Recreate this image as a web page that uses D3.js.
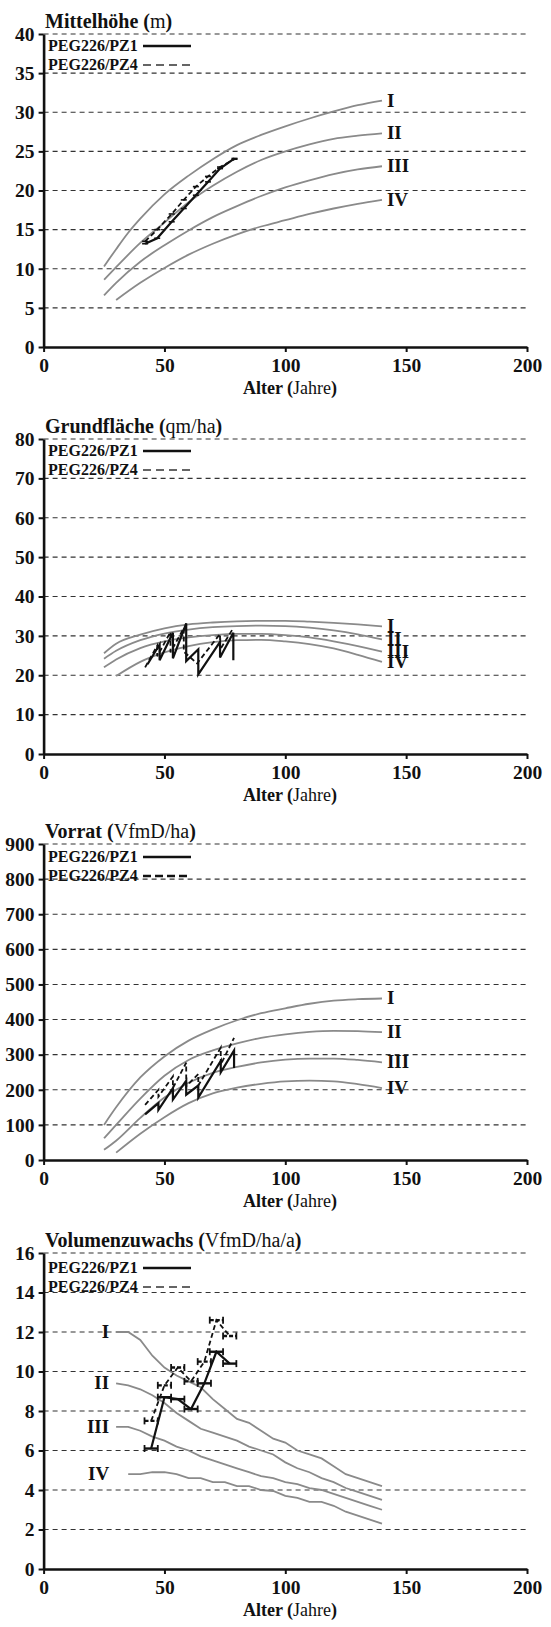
<!DOCTYPE html>
<html>
<head>
<meta charset="utf-8">
<script src="https://cdn.jsdelivr.net/npm/d3@7"></script>
<style>
  body { margin: 0; background: #fff; }
</style>
</head>
<body>
<svg id="chart" width="551" height="1627"></svg>
<script>
// ---------- Ertragstafel-Kurven (Bonitäten I–IV), [Alter, Wert] ----------
const hoeheI   = [[25,10.3],[30,12.5],[35,14.6],[40,16.4],[50,19.5],[60,21.9],[70,24.0],[80,25.8],[90,27.1],[100,28.2],[110,29.2],[120,30.1],[130,30.9],[140,31.5]];
const hoeheII  = [[25,8.6],[30,10.2],[40,13.3],[50,15.9],[60,18.5],[70,20.6],[80,22.4],[90,23.9],[100,25.0],[110,25.9],[120,26.6],[130,27.0],[140,27.3]];
const hoeheIII = [[25,6.6],[30,8.2],[40,10.9],[50,13.0],[60,14.9],[70,16.6],[80,18.0],[90,19.3],[100,20.4],[110,21.3],[120,22.1],[130,22.7],[140,23.1]];
const hoeheIV  = [[30,6.0],[40,8.2],[50,10.1],[60,11.8],[70,13.2],[80,14.4],[90,15.4],[100,16.2],[110,17.0],[120,17.7],[130,18.3],[140,18.8]];

const gfI   = [[25,25.6],[30,28.0],[40,30.3],[50,31.9],[60,32.9],[70,33.4],[80,33.7],[90,33.8],[100,33.8],[110,33.6],[120,33.3],[130,32.9],[140,32.4]];
const gfII  = [[25,24.2],[30,26.2],[40,28.9],[50,30.6],[60,31.6],[70,32.2],[80,32.5],[90,32.6],[100,32.5],[110,32.1],[120,31.4],[130,30.4],[140,29.1]];
const gfIII = [[25,22.0],[30,24.0],[40,26.9],[50,28.6],[60,29.6],[70,30.2],[80,30.5],[90,30.5],[100,30.2],[110,29.6],[120,28.6],[130,27.4],[140,26.0]];
const gfIV  = [[30,19.8],[40,23.4],[50,25.8],[60,27.4],[70,28.4],[80,28.9],[90,29.0],[100,28.6],[110,27.9],[120,26.8],[130,25.2],[140,23.4]];

const vorratI   = [[25,100],[30,150],[40,235],[50,295],[60,340],[70,372],[80,398],[90,418],[100,432],[110,445],[120,454],[130,458],[140,460]];
const vorratII  = [[25,62],[30,100],[40,175],[50,240],[60,285],[70,312],[80,332],[90,348],[100,358],[110,365],[120,368],[130,367],[140,364]];
const vorratIII = [[25,29],[30,55],[40,120],[50,178],[60,220],[70,248],[80,265],[90,278],[100,286],[110,289],[120,289],[130,285],[140,278]];
const vorratIV  = [[30,21],[40,75],[50,122],[60,162],[70,190],[80,206],[90,217],[100,224],[110,226],[120,224],[130,216],[140,205]];

const zuwI   = [[30,12.0],[35,12.0],[40,11.6],[45,10.8],[50,10.2],[55,9.8],[60,9.5],[65,9.2],[70,8.6],[75,8.1],[80,7.6],[85,7.4],[90,7.0],[95,6.6],[100,6.4],[105,6.0],[110,5.8],[115,5.6],[120,5.2],[125,4.8],[130,4.6],[135,4.4],[140,4.2]];
const zuwII  = [[30,9.4],[35,9.3],[40,9.1],[45,8.8],[50,8.4],[55,7.9],[60,7.5],[65,7.1],[70,6.9],[75,6.7],[80,6.5],[85,6.2],[90,6.0],[95,5.8],[100,5.4],[105,5.1],[110,4.9],[115,4.6],[120,4.4],[125,4.1],[130,3.9],[135,3.7],[140,3.5]];
const zuwIII = [[30,7.2],[35,7.2],[40,7.0],[45,6.7],[50,6.5],[55,6.2],[60,6.0],[65,5.7],[70,5.5],[75,5.3],[80,5.1],[85,4.9],[90,4.7],[95,4.6],[100,4.4],[105,4.3],[110,4.1],[115,4.0],[120,3.8],[125,3.6],[130,3.4],[135,3.2],[140,3.0]];
const zuwIV  = [[35,4.8],[40,4.8],[45,4.9],[50,4.9],[55,4.8],[60,4.6],[65,4.6],[70,4.4],[75,4.4],[80,4.2],[85,4.2],[90,4.0],[95,3.95],[100,3.7],[105,3.6],[110,3.4],[115,3.4],[120,3.2],[125,2.9],[130,2.7],[135,2.5],[140,2.3]];

// ---------- Versuchsparzellen PEG226 ----------
const hoehePZ1 = [[42,13.2],[47,13.9],[53,16.0],[58,17.7],[63,19.4],[68,21.1],[73,22.8],[79,24.1]];
const hoehePZ4 = [[42,13.5],[47,15.0],[53,17.0],[58,18.8],[63,20.5],[68,21.8],[73,23.0],[79,24.0]];

// Grundfläche vor/nach Durchforstung (senkrechte Sprünge)
const gfPZ1 = [[43,22.8],[48,27.8],[48,23.8],[53.5,30.8],[53.5,24.3],[59,33.2],[59,23.6],[64,26.6],[64,20.2],[73,28.5],[73,24.5],[78.5,30.8],[78.5,23.8]];
const gfPZ4 = [[42,22.0],[47,27.5],[47,24.8],[52.5,31.0],[52.5,25.8],[58,32.0],[58,26.0],[63.5,23.0],[73,30.5],[73,26.5],[78,31.5]];

const vorratPZ1 = [[42,130],[47.5,162],[47.5,143],[53.5,205],[53.5,172],[59,226],[59,186],[64,212],[64,178],[73.3,282],[73.3,250],[78.8,312],[78.8,262]];
const vorratPZ4 = [[42,157],[47.5,200],[47.5,180],[53.5,238],[53.5,205],[59,277],[59,210],[64,245],[64,212],[73.3,320],[73.3,272],[78.8,348]];

// Periodischer Zuwachs: Periodenmitte und Wert
const zuwPZ1 = [[44.5,6.1],[50,8.7],[55.5,8.6],[61,8.1],[66.5,9.4],[71.5,11.0],[77,10.4]];
const zuwPZ4 = [[44.5,7.5],[50,9.3],[55.5,10.2],[61,9.5],[66.5,10.5],[71.5,12.6],[77,11.8]];
const periodHalf = 2.75;

// ---------- Achsen und Beschriftung ----------
const xTicks = [0, 50, 100, 150, 200];
const ticksHoehe  = [0,5,10,15,20,25,30,35,40];
const ticksGf     = [0,10,20,30,40,50,60,70,80];
const ticksVorrat = [0,100,200,300,400,500,600,700,800,900];
const ticksZuw    = [0,2,4,6,8,10,12,14,16];
const classNames  = ["I", "II", "III", "IV"];
const seriesNames = ["PEG226/PZ1", "PEG226/PZ4"];
const titles = [
  ["Mittelhöhe", "m"],
  ["Grundfläche", "qm/ha"],
  ["Vorrat", "VfmD/ha"],
  ["Volumenzuwachs", "VfmD/ha/a"]
];
const xTitle = ["Alter", "Jahre"];

// ---------- Layout ----------
const SERIF = "'Liberation Serif', 'Times New Roman', Times, 'DejaVu Serif', serif";
const xLeft = 43.6, xRight = 527;
const tops = [34, 439, 844, 1253];
const bottoms = [347, 754, 1160, 1569];

const panels = [
  { curves: [hoeheI, hoeheII, hoeheIII, hoeheIV], pz1: hoehePZ1, pz4: hoehePZ4, ticks: ticksHoehe, kind: "line", labelSide: "end", legendDash: "8,5", legendDashColor: "#333", legendDashW: 1.6, legendY: 12 },
  { curves: [gfI, gfII, gfIII, gfIV], pz1: gfPZ1, pz4: gfPZ4, ticks: ticksGf, kind: "saw", labelSide: "end", legendDash: "8,5", legendDashColor: "#333", legendDashW: 1.6, legendY: 12 },
  { curves: [vorratI, vorratII, vorratIII, vorratIV], pz1: vorratPZ1, pz4: vorratPZ4, ticks: ticksVorrat, kind: "saw", labelSide: "end", legendDash: "8,4", legendDashColor: "#111", legendDashW: 2.4, legendY: 13 },
  { curves: [zuwI, zuwII, zuwIII, zuwIV], pz1: zuwPZ1, pz4: zuwPZ4, ticks: ticksZuw, kind: "bars", labelSide: "start", legendDash: "8,5", legendDashColor: "#333", legendDashW: 1.6, legendY: 15 }
];

function serif(sel, size, weight) {
  return sel.style("font-family", SERIF).style("font-size", size + "px")
    .style("font-weight", weight || "normal").style("fill", "#111");
}

const svg = d3.select("#chart");
const x = d3.scaleLinear().domain([0, 200]).range([xLeft, xRight]);

panels.forEach((p, i) => {
  const top = tops[i], bottom = bottoms[i];
  const y = d3.scaleLinear().domain([0, d3.max(p.ticks)]).range([bottom, top]);
  const g = svg.append("g");

  // Gitterlinien
  g.selectAll("line.grid").data(p.ticks.filter(t => t > 0)).join("line")
    .attr("x1", xLeft).attr("x2", xRight)
    .attr("y1", d => y(d)).attr("y2", d => y(d))
    .attr("stroke", "#333").attr("stroke-width", 1.1)
    .attr("stroke-dasharray", "5,4");

  // Ertragstafelkurven
  const smooth = p.kind === "bars" ? d3.curveLinear : d3.curveMonotoneX;
  const curveLine = d3.line().x(d => x(d[0])).y(d => y(d[1])).curve(smooth);
  p.curves.forEach((c, k) => {
    g.append("path").attr("d", curveLine(c))
      .attr("fill", "none").attr("stroke", "#8a8a8a").attr("stroke-width", 1.8);
    let lbl;
    if (p.labelSide === "end") {
      const last = c[c.length - 1];
      lbl = g.append("text").attr("x", x(last[0]) + 5).attr("y", y(last[1]) + 6);
    } else {
      const first = c[0];
      lbl = g.append("text").attr("x", x(30) - 7).attr("y", y(first[1]) + 6)
        .attr("text-anchor", "end");
    }
    serif(lbl, 19, "bold").text(classNames[k]);
  });

  // Parzellenwerte
  const obsLine = d3.line().x(d => x(d[0])).y(d => y(d[1]));
  const styles = [
    { data: p.pz1, dash: null, w: 2.2 },
    { data: p.pz4, dash: "5,3", w: 1.8 }
  ];
  styles.forEach(s => {
    g.append("path").attr("d", obsLine(s.data))
      .attr("fill", "none").attr("stroke", "#111").attr("stroke-width", s.w)
      .attr("stroke-dasharray", s.dash);
    if (p.kind === "line") {
      g.selectAll(null).data(s.data).join("line")
        .attr("x1", d => x(d[0]) - 3).attr("x2", d => x(d[0]) + 3)
        .attr("y1", d => y(d[1])).attr("y2", d => y(d[1]))
        .attr("stroke", "#111").attr("stroke-width", 1.6);
    }
    if (p.kind === "bars") {
      const bars = g.selectAll(null).data(s.data).join("g");
      bars.append("line")
        .attr("x1", d => x(d[0] - periodHalf)).attr("x2", d => x(d[0] + periodHalf))
        .attr("y1", d => y(d[1])).attr("y2", d => y(d[1]))
        .attr("stroke", "#111").attr("stroke-width", 2.4)
        .attr("stroke-dasharray", s.dash ? "4,2" : null);
      [-periodHalf, periodHalf].forEach(off => {
        bars.append("line")
          .attr("x1", d => x(d[0] + off)).attr("x2", d => x(d[0] + off))
          .attr("y1", d => y(d[1]) - 3.5).attr("y2", d => y(d[1]) + 3.5)
          .attr("stroke", "#111").attr("stroke-width", 1.8);
      });
    }
  });

  // Achsen
  const yAxis = d3.axisLeft(y).tickValues(p.ticks).tickSize(5).tickSizeOuter(0).tickPadding(4);
  const ya = g.append("g").attr("transform", `translate(${xLeft},0)`).call(yAxis);
  const xAxis = d3.axisBottom(x).tickValues(xTicks).tickSize(5).tickSizeOuter(0).tickPadding(6);
  const xa = g.append("g").attr("transform", `translate(0,${bottom})`).call(xAxis);
  [ya, xa].forEach(a => {
    a.attr("font-family", null).attr("font-size", null);
    a.select(".domain").attr("stroke", "#111").attr("stroke-width", 2.6);
    a.selectAll(".tick line").attr("stroke", "#111").attr("stroke-width", 2);
    serif(a.selectAll(".tick text"), 19.5, "bold");
  });

  // Titel
  const t = serif(g.append("text").attr("x", 45).attr("y", top - 6), 20);
  t.append("tspan").style("font-weight", "bold").text(titles[i][0] + " (");
  t.append("tspan").text(titles[i][1]);
  t.append("tspan").style("font-weight", "bold").text(")");

  const xt = serif(g.append("text").attr("x", 290).attr("y", bottom + 47)
    .attr("text-anchor", "middle"), 18);
  xt.append("tspan").style("font-weight", "bold").text(xTitle[0] + " (");
  xt.append("tspan").text(xTitle[1]);
  xt.append("tspan").style("font-weight", "bold").text(")");

  // Legende
  seriesNames.forEach((name, k) => {
    const ly = top + p.legendY + k * 19;
    serif(g.append("text").attr("x", 48).attr("y", ly + 5), 16, "bold").text(name);
    g.append("line").attr("x1", 143).attr("x2", 191).attr("y1", ly).attr("y2", ly)
      .attr("stroke", k === 0 ? "#111" : p.legendDashColor)
      .attr("stroke-width", k === 0 ? 2.6 : p.legendDashW)
      .attr("stroke-dasharray", k === 0 ? null : p.legendDash);
  });
});
</script>
</body>
</html>
